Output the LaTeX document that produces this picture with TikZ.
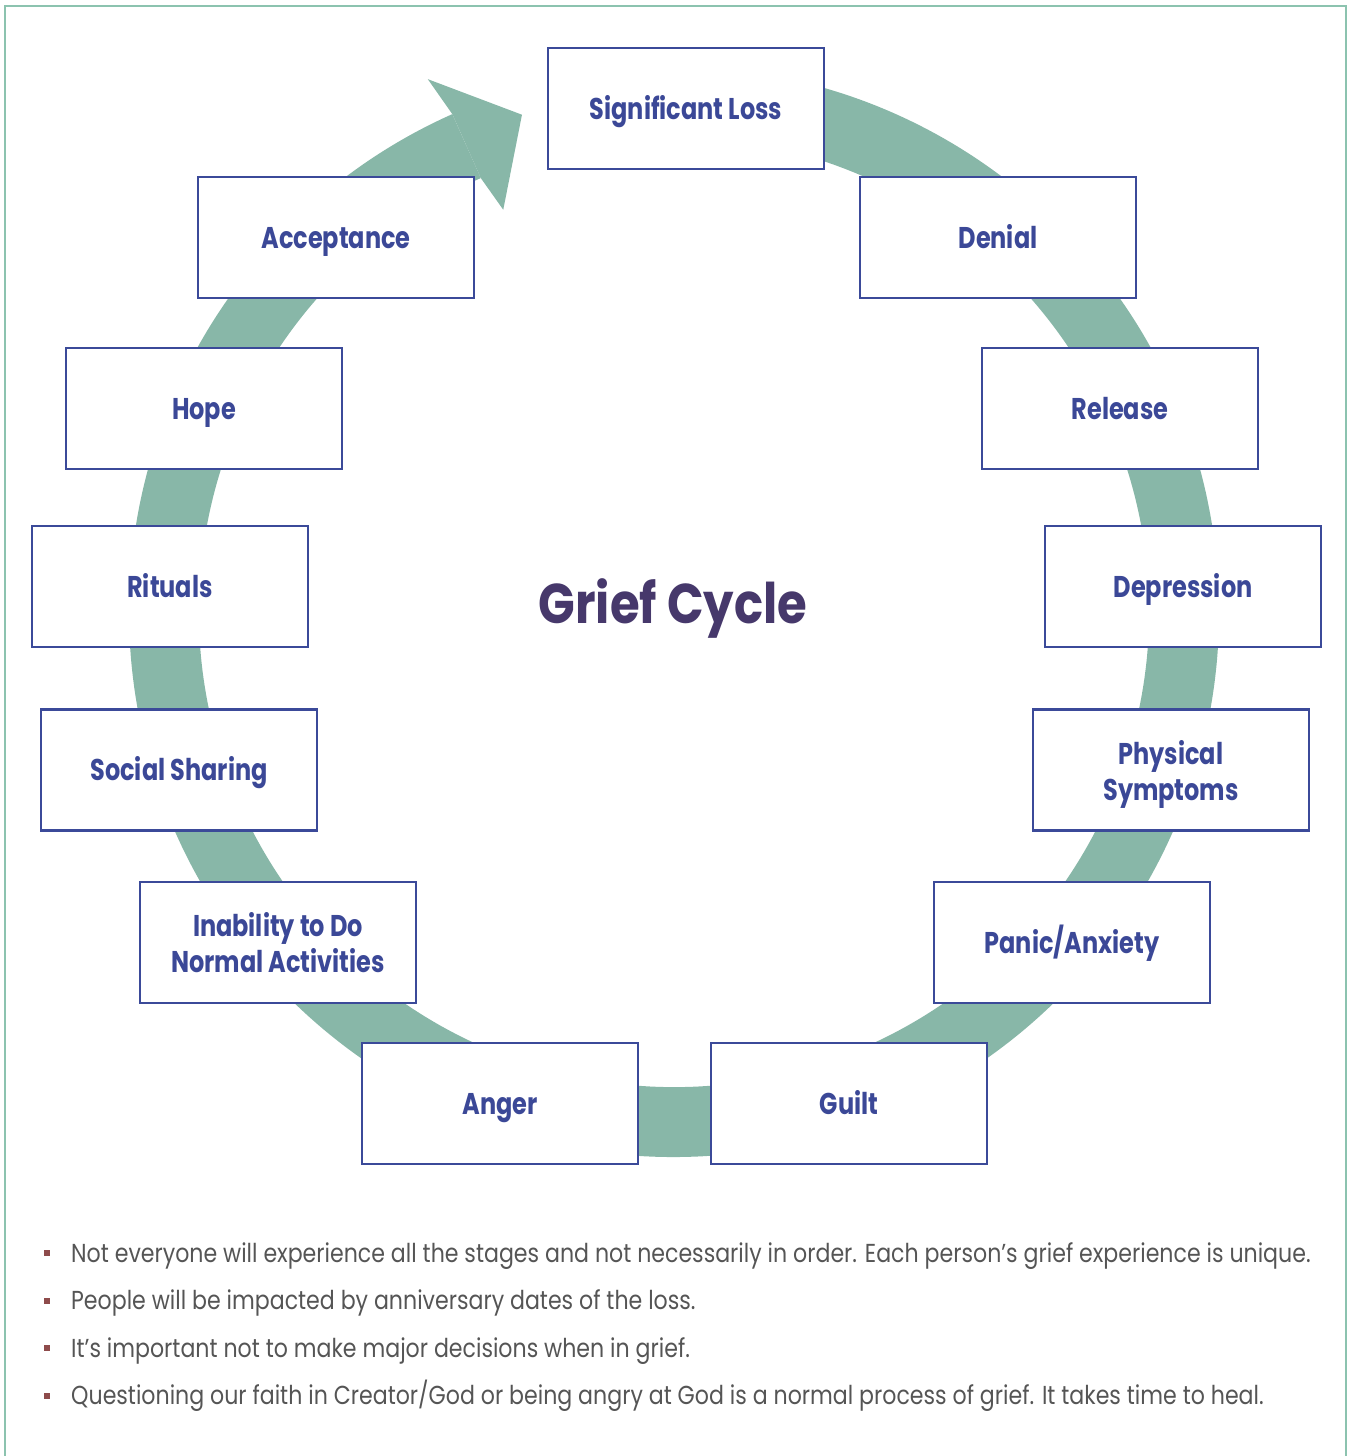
\documentclass[tikz,border=0pt]{standalone}
\usepackage{fontspec}
\setmainfont{Poppins}
\newfontfamily\labfont[FakeStretch=0.8]{Poppins}
\newfontfamily\bodyfont[FakeStretch=0.85]{Poppins}
\newfontfamily\ttlfont[FakeStretch=0.86]{Poppins}
\definecolor{bandcol}{HTML}{88B7A8}
\definecolor{boxcol}{HTML}{3B4A99}
\definecolor{labcol}{HTML}{3B4897}
\definecolor{ttlcol}{HTML}{46386B}
\definecolor{framecol}{HTML}{8CC3AF}
\definecolor{bulcol}{HTML}{8E4B4B}
\definecolor{bodycol}{HTML}{555555}
\tikzset{
  stagebox/.style={draw=boxcol, line width=2.4pt, fill=white,
    minimum width=276pt, minimum height=121pt, inner sep=0pt,
    font=\labfont\bfseries\fontsize{30}{36}\selectfont, text=labcol, align=center},
  oneline/.style={text height=21pt, text depth=0pt},
  bulletline/.style={anchor=base west, inner sep=0pt, text=bodycol,
    font=\bodyfont\fontsize{26}{30}\selectfont},
  bulletmark/.style={fill=bulcol, minimum size=6pt, inner sep=0pt, draw=none},
  bandfill/.style={fill=bandcol, draw=none}
}
\begin{document}
\begin{tikzpicture}[x=1pt,y=1pt]
\useasboundingbox (0,0) rectangle (1351,-1456);
% frame
\draw[framecol, line width=2pt] (5,-1456) -- (5,-6) -- (1346,-6) -- (1346,-1456);
% ring
\begin{scope}[shift={(674,-612)}]
  \fill[bandfill] (95:545pt) arc[start angle=95, end angle=-246, radius=545pt]
     -- (-246:475pt) arc[start angle=-246, end angle=95, radius=475pt] -- cycle;
  \fill[bandfill] (114:545pt) -- (114.8:587pt) -- (107:520pt) -- (113:437pt) -- (114:475pt) -- cycle;
\end{scope}
% stages
\node[stagebox, oneline] (loss) at (686,-108.5) {Significant Loss};
\node[stagebox, oneline] (denial) at (998,-237.5) {Denial};
\node[stagebox, oneline] (release) at (1120,-408.5) {Release};
\node[stagebox, oneline] (depression) at (1183,-586.5) {Depression};
\node[stagebox] (physical) at (1171,-770) {};
\node[font=\labfont\bfseries\fontsize{30}{36}\selectfont, text=labcol, align=center, inner sep=0pt] (physicaltext) at (1171,-774) {Physical\\Symptoms};
\node[stagebox, oneline] (panic) at (1072,-942.5) {Panic/Anxiety};
\node[stagebox, oneline] (guilt) at (849,-1103.5) {Guilt};
\node[stagebox, oneline] (anger) at (500,-1103.5) {Anger};
\node[stagebox] (inability) at (278,-942.5) {Inability to Do\\Normal Activities};
\node[stagebox, oneline] (social) at (179,-770) {Social Sharing};
\node[stagebox, oneline] (rituals) at (170,-586.5) {Rituals};
\node[stagebox, oneline] (hope) at (204,-408.5) {Hope};
\node[stagebox, oneline] (acceptance) at (336,-237.5) {Acceptance};
% title
\node[text=ttlcol, font=\ttlfont\bfseries\fontsize{56}{60}\selectfont, inner sep=0pt] (title) at (673,-608) {Grief Cycle};
% bullets
\node[bulletmark] (b1) at (47,-1253) {};
\node[bulletline] (t1) at (71,-1262) {Not everyone will experience all the stages and not necessarily in order. Each person’s grief experience is unique.};
\node[bulletmark] (b2) at (47,-1300.5) {};
\node[bulletline] (t2) at (71,-1309.5) {People will be impacted by anniversary dates of the loss.};
\node[bulletmark] (b3) at (47,-1348) {};
\node[bulletline] (t3) at (71,-1357) {It’s important not to make major decisions when in grief.};
\node[bulletmark] (b4) at (47,-1395.5) {};
\node[bulletline] (t4) at (71,-1404.5) {Questioning our faith in Creator/God or being angry at God is a normal process of grief. It takes time to heal.};
\end{tikzpicture}
\end{document}
